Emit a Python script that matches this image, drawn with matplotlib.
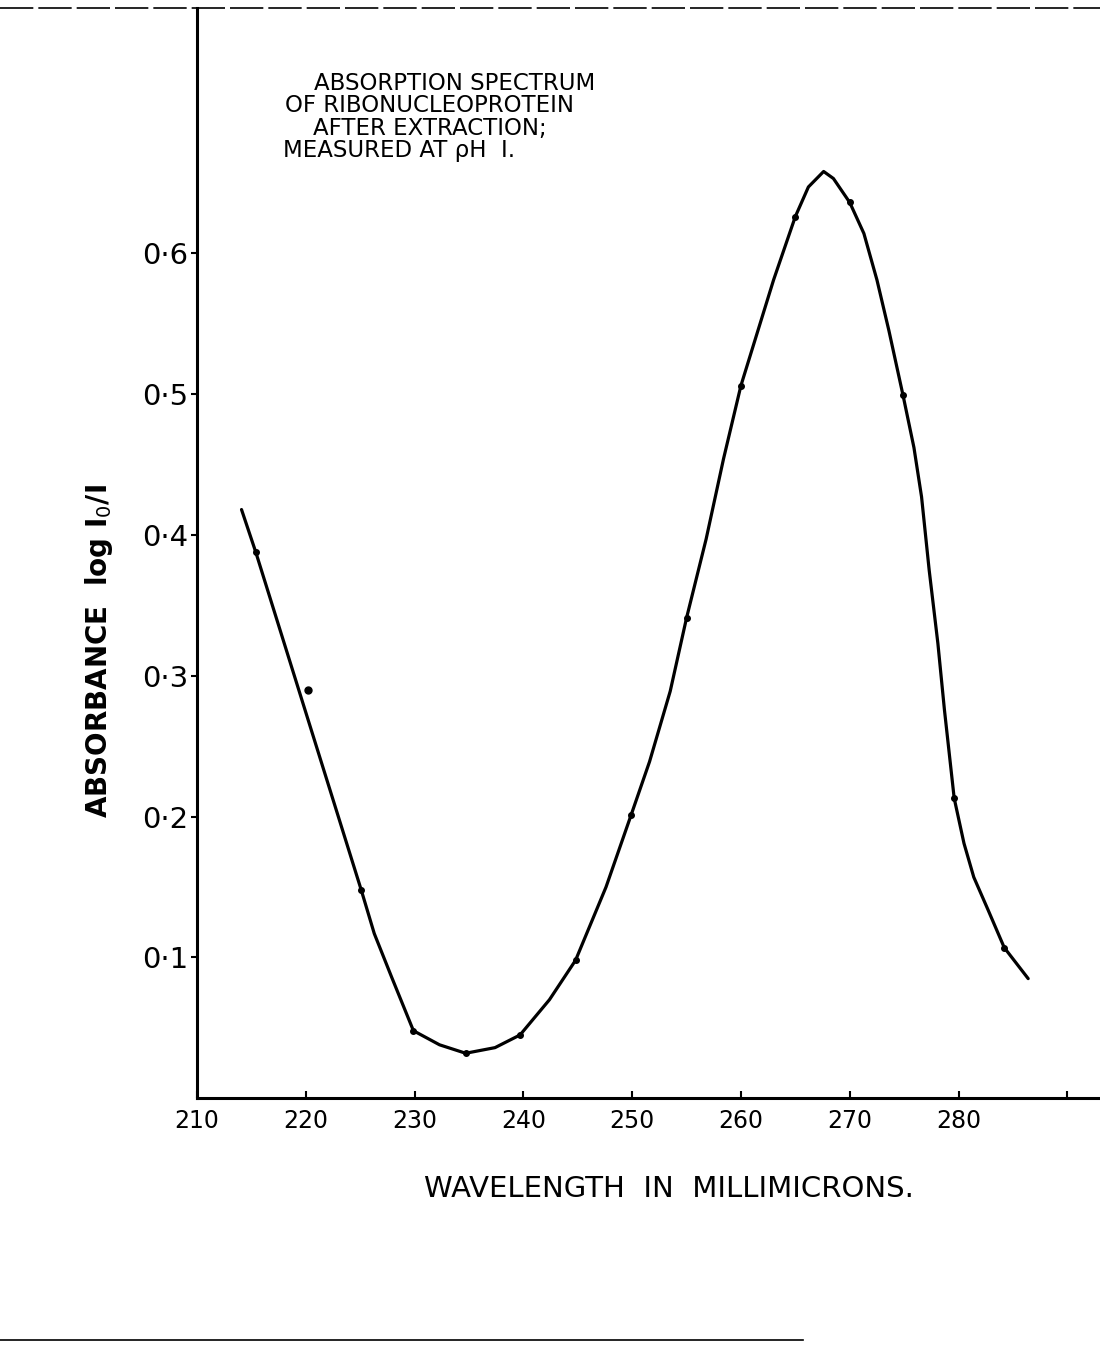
import numpy as np
import matplotlib.pyplot as plt
from matplotlib.lines import Line2D

# curve (wavelength in mμ, absorbance)
wl_curve = [214.1, 215.4, 225.1, 226.3, 227.9, 229.9, 232.3, 234.7, 237.4,
            239.7, 242.4, 244.8, 247.6, 249.9, 251.6, 253.5, 255.0, 256.8,
            258.4, 260.0, 263.0, 265.0, 266.2, 267.6, 268.5, 270.0, 271.3,
            272.5, 273.6, 274.9, 275.9, 276.6, 277.3, 278.1, 278.7, 279.6,
            280.5, 281.4, 282.7, 284.2, 286.4]
abs_curve = [0.418, 0.388, 0.148, 0.117, 0.086, 0.048, 0.038, 0.032, 0.036,
             0.045, 0.070, 0.098, 0.150, 0.201, 0.239, 0.289, 0.341, 0.397,
             0.454, 0.506, 0.581, 0.626, 0.647, 0.658, 0.653, 0.636, 0.614,
             0.581, 0.545, 0.499, 0.462, 0.427, 0.375, 0.323, 0.276, 0.213,
             0.181, 0.157, 0.134, 0.107, 0.085]

# measured points (dots on the curve)
wl_pts = [215.4, 225.1, 229.9, 234.7, 239.7, 244.8, 249.9, 255.0, 260.0,
          265.0, 270.0, 274.9, 279.6, 284.2]
abs_pts = [0.388, 0.148, 0.048, 0.032, 0.045, 0.098, 0.201, 0.341, 0.506,
           0.626, 0.636, 0.499, 0.213, 0.107]

# stray point off the line
wl_odd = [220.2]
abs_odd = [0.290]

xticks = [210, 220, 230, 240, 250, 260, 270, 280, 290]
xlabels = ['210', '220', '230', '240', '250', '260', '270', '280', '']
yticks = [0.1, 0.2, 0.3, 0.4, 0.5, 0.6]
ylabels = ['0·1', '0·2', '0·3', '0·4', '0·5', '0·6']

title_lines = ['ABSORPTION SPECTRUM', 'OF RIBONUCLEOPROTEIN',
               'AFTER EXTRACTION;', 'MEASURED AT ρH  I.']

fig = plt.figure(figsize=(11, 13.46), dpi=100)
ax = fig.add_axes([0.179, 0.184, 0.821, 0.810])

ax.plot(wl_curve, abs_curve, color='black', lw=2.3, solid_joinstyle='round',
        solid_capstyle='round')
ax.plot(wl_pts, abs_pts, 'o', color='black', ms=4)
ax.plot(wl_odd, abs_odd, 'o', color='black', ms=5)

ax.set_xlim(210, 293)
ax.set_ylim(0, 0.774)

for s in ['top', 'right']:
    ax.spines[s].set_visible(False)
for s in ['left', 'bottom']:
    ax.spines[s].set_linewidth(2.2)

ax.set_xticks(xticks)
ax.set_xticklabels(xlabels, fontsize=17)
ax.set_yticks(yticks)
ax.set_yticklabels(ylabels, fontsize=21)
ax.tick_params(axis='x', direction='in', length=5, width=1.5, pad=8)
ax.tick_params(axis='y', direction='out', length=4, width=1.5, pad=2)

ax.set_xlabel('WAVELENGTH  IN  MILLIMICRONS.', fontsize=21, labelpad=30,
              x=0.523)
ax.set_ylabel('ABSORBANCE  log I$_0$/I', fontsize=20, fontweight='bold',
              labelpad=20, y=0.41)

# title block, each line placed as drawn
xs = [314, 285, 313, 283]
ys = [83, 106, 128, 150]
for t, x, y in zip(title_lines, xs, ys):
    fig.text(x / 1100, 1 - y / 1346, t, fontsize=16.5, va='center', ha='left')

# scan border lines
fig.add_artist(Line2D([0.0, 1.0], [1 - 8 / 1346] * 2, color='black', lw=1.2,
                      ls=(0, (20, 3))))
fig.add_artist(Line2D([0.0, 0.73], [1 - 1340 / 1346] * 2, color='black',
                      lw=1.2))

fig.savefig('out.png', dpi=100)
